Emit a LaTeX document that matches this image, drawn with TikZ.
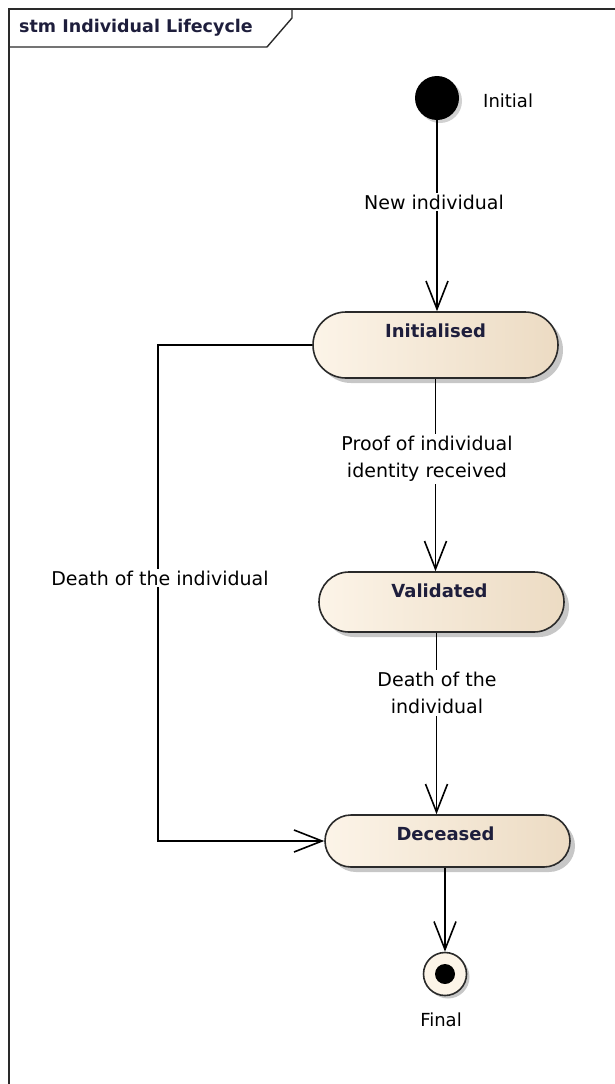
\documentclass[tikz,border=0pt]{standalone}
\usepackage{fontspec}
\setmainfont{DejaVu Sans}
\usetikzlibrary{arrows.meta,shadows,calc}
\definecolor{cream}{HTML}{FCF4E8}
\definecolor{tan}{HTML}{ECDBC3}
\definecolor{navy}{HTML}{1E1E3C}
\definecolor{edge}{HTML}{2A2A2A}
\begin{document}
\begin{tikzpicture}[x=1pt,y=-1pt,
  stbox/.style={draw=edge, line width=1.6pt, rounded corners=#1, left color=cream, right color=tan,
    minimum width=245pt, minimum height=2*#1, inner sep=0pt,
    drop shadow={shadow xshift=5pt, shadow yshift=-5pt, fill=black, opacity=0.22}},
  sttext/.style={font=\fontsize{18}{20}\selectfont\bfseries, text=navy, inner sep=0pt},
  lbl/.style={font=\fontsize{19}{27}\selectfont, fill=white, inner sep=2pt, align=center, text=black},
  tr/.style={draw=black, line width=1.6pt, -{Straight Barb[length=28pt,width=22pt,line width=1.6pt]}},
]
\useasboundingbox (0,0) rectangle (614,1084);
% frame
\draw[line width=1.4pt, edge] (9,1090) -- (9,9) -- (620,9);
\draw[line width=1.4pt, edge] (9,47) -- (267,47) -- (292,18) -- (292,9);
\node[anchor=west, font=\fontsize{17.5}{20}\selectfont\bfseries, text=navy, inner sep=0pt] (title) at (19,28) {stm Individual Lifecycle};

% initial
\node[circle, fill=black, minimum size=44pt, inner sep=0pt,
  drop shadow={shadow xshift=3pt, shadow yshift=-3pt, fill=black, opacity=0.18}] (init) at (437,98) {};
\node[font=\fontsize{18}{20}\selectfont, anchor=west, inner sep=0pt] (initlbl) at (483,101) {Initial};

% states
\node[stbox=33pt] (s1) at (435.5,345) {};
\node[sttext] (t1) at ($(s1.north)+(0,20)$) {Initialised};
\node[stbox=30pt] (s2) at (441.5,602) {};
\node[sttext] (t2) at ($(s2.north)+(-2,20)$) {Validated};
\node[stbox=26pt] (s3) at (447.5,841) {};
\node[sttext] (t3) at ($(s3.north)+(-2,20)$) {Deceased};

% final
\node[circle, draw=edge, line width=1.6pt, fill=cream, minimum size=43pt, inner sep=0pt,
  drop shadow={shadow xshift=3pt, shadow yshift=-3pt, fill=black, opacity=0.22}] (fin) at (445,974) {};
\node[circle, fill=black, minimum size=20pt, inner sep=0pt] (findot) at (fin.center) {};
\node[font=\fontsize{18}{20}\selectfont, inner sep=0pt] (finlbl) at (441,1020) {Final};

% transitions
\draw[tr] (init.south) -- (init.south |- s1.north);
\draw[tr] (s1.south) -- (s1.south |- s2.north);
\draw[tr] ([xshift=-5pt]s2.south) -- ([xshift=-5pt]s2.south |- s3.north);
\draw[tr] (fin.north |- s3.south) -- (fin.north);
\draw[tr] (s1.west) -- ++(-154,0) |- (s3.west);

% labels
\node[lbl] (l1) at (434,202) {New individual};
\node[lbl] (l2) at (427,459) {Proof of individual\\identity received};
\node[lbl] (l3) at (437,693) {Death of the\\individual};
\node[lbl] (l4) at (160,578) {Death of the individual};
\end{tikzpicture}
\end{document}
